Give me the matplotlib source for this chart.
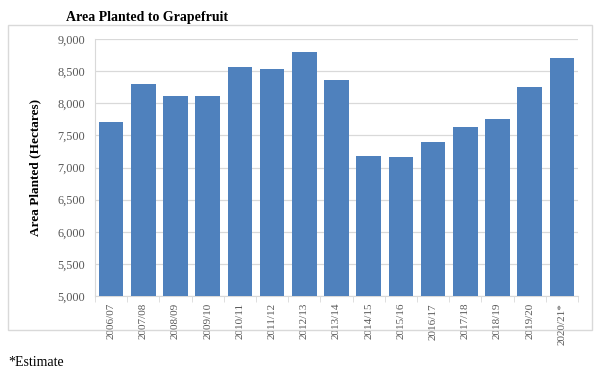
import matplotlib
matplotlib.use('Agg')
import matplotlib.pyplot as plt
from matplotlib.patches import Rectangle

seasons = ['2006/07', '2007/08', '2008/09', '2009/10', '2010/11', '2011/12', '2012/13',
           '2013/14', '2014/15', '2015/16', '2016/17', '2017/18', '2018/19', '2019/20', '2020/21*']
area = [7710, 8305, 8118, 8118, 8569, 8528, 8798, 8362, 7179, 7159, 7392, 7630, 7760, 8258, 8699]
yticks = [5000, 5500, 6000, 6500, 7000, 7500, 8000, 8500, 9000]


def main():
	plt.rcParams['font.family'] = ['Liberation Serif', 'DejaVu Serif']
	fig = plt.figure(figsize=(6, 3.69), dpi=100)

	# light frame around the chart
	fig.patches.append(Rectangle((8/600, 1-330/369), 584/600, 305/369, transform=fig.transFigure,
	                             fill=False, edgecolor='#d9d9d9', linewidth=1.0))

	ax = fig.add_axes([95/600, 1-296/369, 483/600, 257/369])
	x = range(len(seasons))
	ax.bar(x, area, width=0.77, color='#4f81bd', zorder=3)
	ax.set_xlim(-0.5, len(seasons)-0.5)
	ax.set_ylim(5000, 9000)
	ax.set_yticks(yticks)
	ax.set_yticklabels(['{:,}'.format(v) for v in yticks], fontsize=8.8, color='#595959')
	ax.set_xticks(list(x))
	ax.set_xticklabels(seasons, rotation=90, fontsize=8, color='#595959')
	ax.tick_params(axis='y', length=0, pad=7)
	ax.set_xticks([i + 0.5 for i in range(-1, len(seasons))], minor=True)
	ax.tick_params(axis='x', which='minor', length=4, color='#d9d9d9')
	ax.tick_params(axis='x', which='major', length=0, pad=5)
	ax.grid(axis='y', color='#d9d9d9', linewidth=0.9, zorder=0)
	for s in ['top', 'right']:
		ax.spines[s].set_visible(False)
	ax.spines['left'].set_color('#d9d9d9')
	ax.spines['bottom'].set_color('#d9d9d9')

	ax.set_ylabel('Area Planted (Hectares)', fontsize=9.5, fontweight='bold', labelpad=12)
	fig.text(147/600, 1-17/369, 'Area Planted to Grapefruit', ha='center', va='center',
	         fontsize=10, fontweight='bold')
	fig.text(8/600, 1-362/369, '*Estimate', ha='left', va='center', fontsize=10)

	fig.savefig('out.png', dpi=100)


if __name__ == '__main__':
	main()
